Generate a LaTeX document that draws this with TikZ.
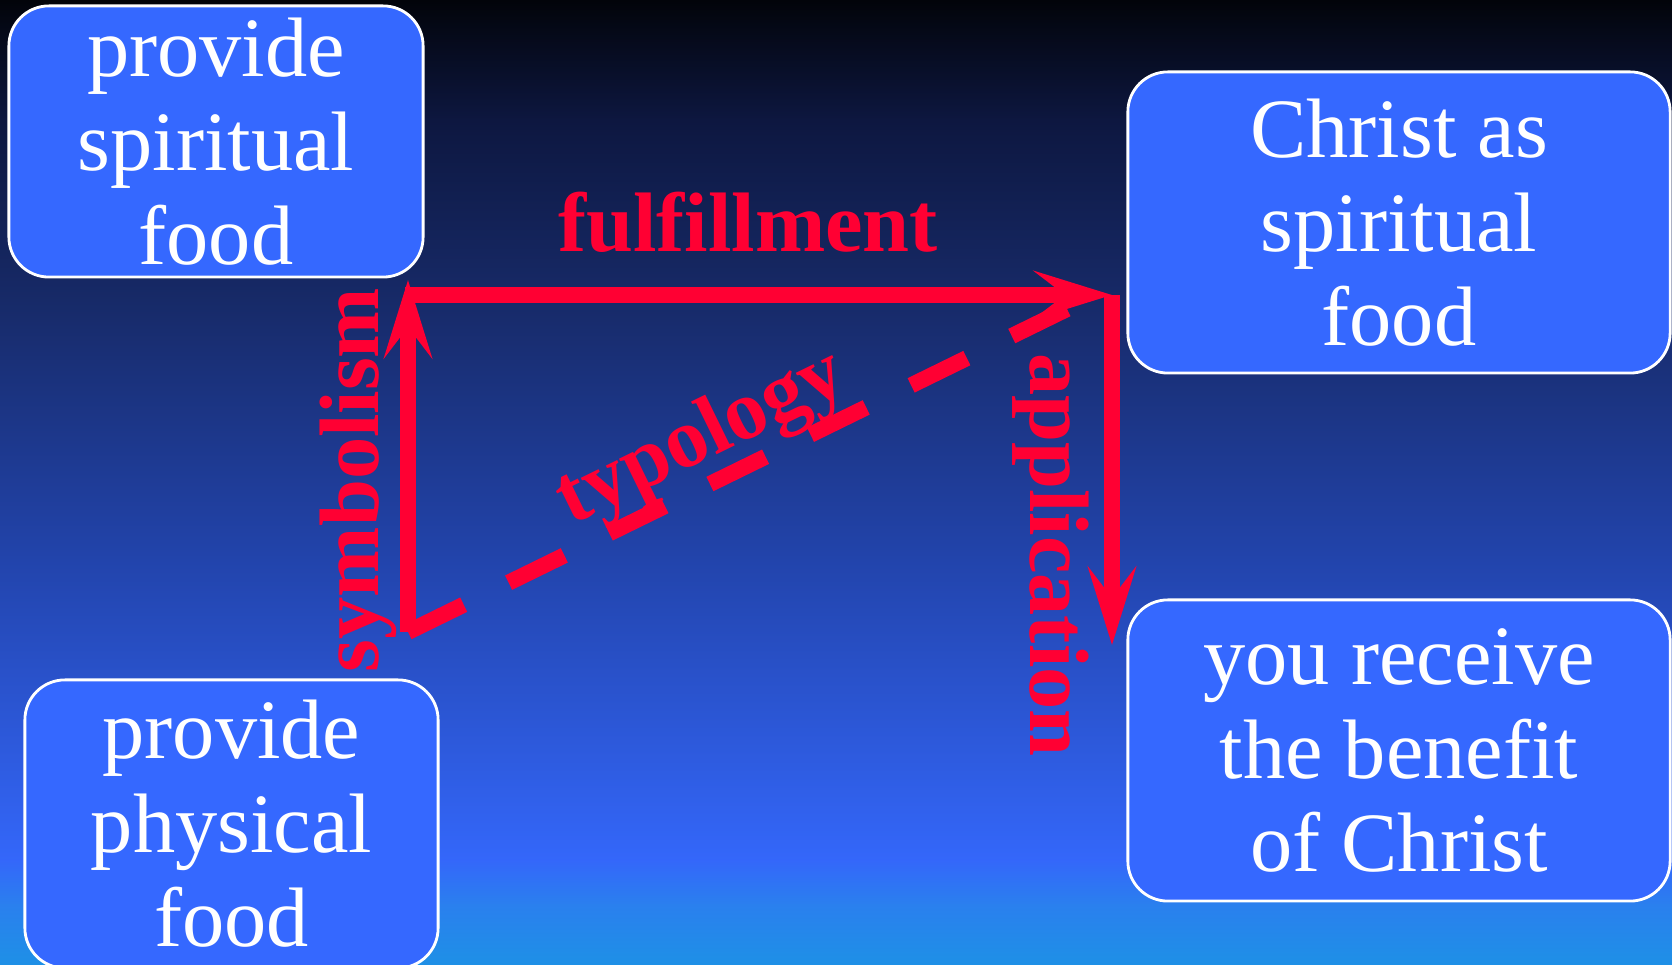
\documentclass[tikz,border=0pt]{standalone}
\usepackage{fontspec}
\setmainfont{Liberation Serif}
\usetikzlibrary{arrows.meta}

\definecolor{bgA}{HTML}{02040A}
\definecolor{bgB}{HTML}{0D1740}
\definecolor{bgC}{HTML}{172A68}
\definecolor{bgD}{HTML}{2244AC}
\definecolor{bgE}{HTML}{3467FA}
\definecolor{bgF}{HTML}{2A80EE}
\definecolor{bgG}{HTML}{1E90E6}
\definecolor{boxblue}{HTML}{3568FF}
\definecolor{arrred}{HTML}{FF0033}

\begin{document}
\begin{tikzpicture}[x=0.01cm, y=-0.01cm,
        box/.style={draw=white, line width=0.8pt, fill=boxblue, rounded corners=0.4cm,
          text=white, align=center, inner sep=0pt, outer sep=0pt,
          font=\fontsize{24pt}{26.7pt}\selectfont},
        lbl/.style={text=arrred, inner sep=0pt, anchor=base,
          font=\fontsize{24pt}{26.7pt}\selectfont\bfseries},
        link/.style={draw=arrred, line width=0.16cm},
        head/.style={link, -{Stealth[length=0.78cm, width=0.48cm, inset=0.31cm]}}]

      % background
      \useasboundingbox (0,0) rectangle (1672,965);
      \shade[top color=bgA, bottom color=bgB] (0,0) rectangle (1672,121);
      \shade[top color=bgB, bottom color=bgC] (0,120) rectangle (1672,301);
      \shade[top color=bgC, bottom color=bgD] (0,300) rectangle (1672,561);
      \shade[top color=bgD, bottom color=bgE] (0,560) rectangle (1672,861);
      \shade[top color=bgE, bottom color=bgF] (0,860) rectangle (1672,906);
      \shade[top color=bgF, bottom color=bgG] (0,905) rectangle (1672,965);

      % boxes
      \node[box, minimum width=4.14cm, minimum height=2.71cm] (spirit) at (216,141.5)
        {provide\\spiritual\\food};
      \node[box, minimum width=4.13cm, minimum height=2.88cm] (physical) at (231.5,824)
        {provide\\physical\\food};
      \node[box, minimum width=5.42cm, minimum height=3.01cm] (christ) at (1399,222.5)
        {Christ as\\spiritual\\food};
      \node[box, minimum width=5.42cm, minimum height=3.01cm] (benefit) at (1399,750.5)
        {you receive\\the benefit\\of Christ};

      % corners of the arrows
      \coordinate (symB) at (408,632);
      \coordinate (symT) at (408,280);
      \coordinate (fulL) at (405,295);
      \coordinate (fulR) at (1112,295);
      \coordinate (appB) at (1112,645);
      \coordinate (typE) at (1067,309);

      \draw[head] (symB) -- (symT);
      \draw[head] (fulL) -- (fulR);
      \draw[head] (fulR) -- (appB);
      \draw[link, dash pattern=on 0.62cm off 0.50cm] (symB) -- (typE);

      % labels
      \node[lbl] (fulfil) at (748,252) {fulfillment};
      \node[lbl, rotate=90] (symb) at (378,480) {symbolism};
      \node[lbl, rotate=-90] (appl) at (1030,555) {application};
      \node[lbl, rotate=26.05] (typo) at (711,457.5) {typology};
    \end{tikzpicture}
\end{document}
